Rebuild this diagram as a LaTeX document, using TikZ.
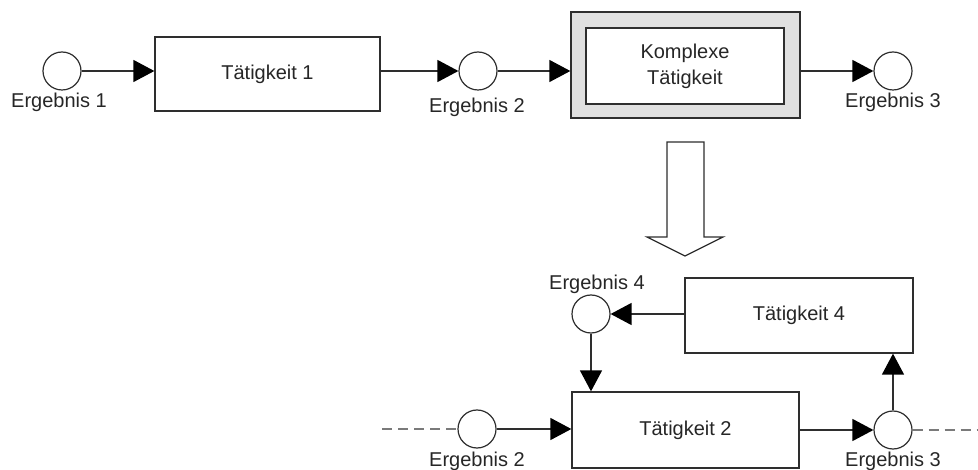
\documentclass[tikz,border=0pt]{standalone}
\usepackage{fontspec}
\setmainfont{Liberation Sans}
\usetikzlibrary{arrows.meta}
\definecolor{ln}{HTML}{2E2E2E}
\definecolor{tx}{HTML}{262626}
\definecolor{cgray}{HTML}{E0E0E0}
\definecolor{dgray}{HTML}{7A7A7A}
\tikzset{
  res/.style={circle,draw=ln,line width=1.2pt,fill=white,minimum size=38pt,inner sep=0pt},
  act/.style={rectangle,draw=ln,line width=1.3pt,fill=white,text=tx,inner sep=0pt,font=\fontsize{20}{26}\selectfont,align=center},
  lbl/.style={text=tx,inner sep=0pt,font=\fontsize{20}{24}\selectfont},
  flow/.style={draw=ln,line width=1.4pt,-{Triangle[length=21pt,width=22pt,fill=black,color=black]}},
  dashline/.style={draw=dgray,line width=2.4pt,dash pattern=on 10pt off 6pt}
}
\begin{document}
\begin{tikzpicture}[x=1pt,y=-1pt]
\useasboundingbox (0,0) rectangle (978,470);
% top row
\node[res] (r1) at (62,71) {};
\node[lbl] (l1) at (59,102) {Ergebnis 1};
\node[act,minimum width=225pt,minimum height=74pt] (t1) at (267.5,74) {Tätigkeit 1};
\node[res] (r2) at (478,71) {};
\node[lbl] (l2) at (477,107) {Ergebnis 2};
\node[rectangle,draw=ln,line width=1.3pt,fill=cgray,minimum width=229pt,minimum height=106pt] (kout) at (685.5,65) {};
\node[act,minimum width=198pt,minimum height=76pt] (kin) at (685,66) {Komplexe\\Tätigkeit};
\node[res] (r3) at (893,71) {};
\node[lbl] (l3) at (893,102) {Ergebnis 3};
\draw[flow] (r1) -- (r1 -| t1.west);
\draw[flow] (t1.east |- r2) -- (r2);
\draw[flow] (r2) -- (r2 -| kout.west);
\draw[flow] (kout.east |- r3) -- (r3);
% big hollow arrow
\draw[ln,line width=1.3pt,fill=white,line join=miter]
  (667,142) -- (704,142) -- (704,237) -- (723,237) -- (685,256) -- (647,237) -- (667,237) -- cycle;
% bottom part
\node[act,minimum width=228pt,minimum height=75pt] (t4) at (799,315.5) {Tätigkeit 4};
\node[res] (r4) at (591,314) {};
\node[lbl] (l4) at (597,284) {Ergebnis 4};
\node[act,minimum width=227pt,minimum height=76pt] (t2) at (685.5,430) {Tätigkeit 2};
\node[res] (r2b) at (477,429) {};
\node[lbl] (l2b) at (477,461) {Ergebnis 2};
\node[res] (r3b) at (893,430) {};
\node[lbl] (l3b) at (893,461) {Ergebnis 3};
\coordinate (dl) at (382,429);
\coordinate (dr) at (978,430);
\draw[dashline] (dl) -- (r2b);
\draw[dashline] (r3b) -- (dr);
\draw[flow] (t4.west |- r4) -- (r4);
\draw[flow] (r4) -- (r4 |- t2.north);
\draw[flow] (r2b) -- (r2b -| t2.west);
\draw[flow] (t2.east |- r3b) -- (r3b);
\draw[flow] (r3b) -- (r3b |- t4.south);
\end{tikzpicture}
\end{document}
